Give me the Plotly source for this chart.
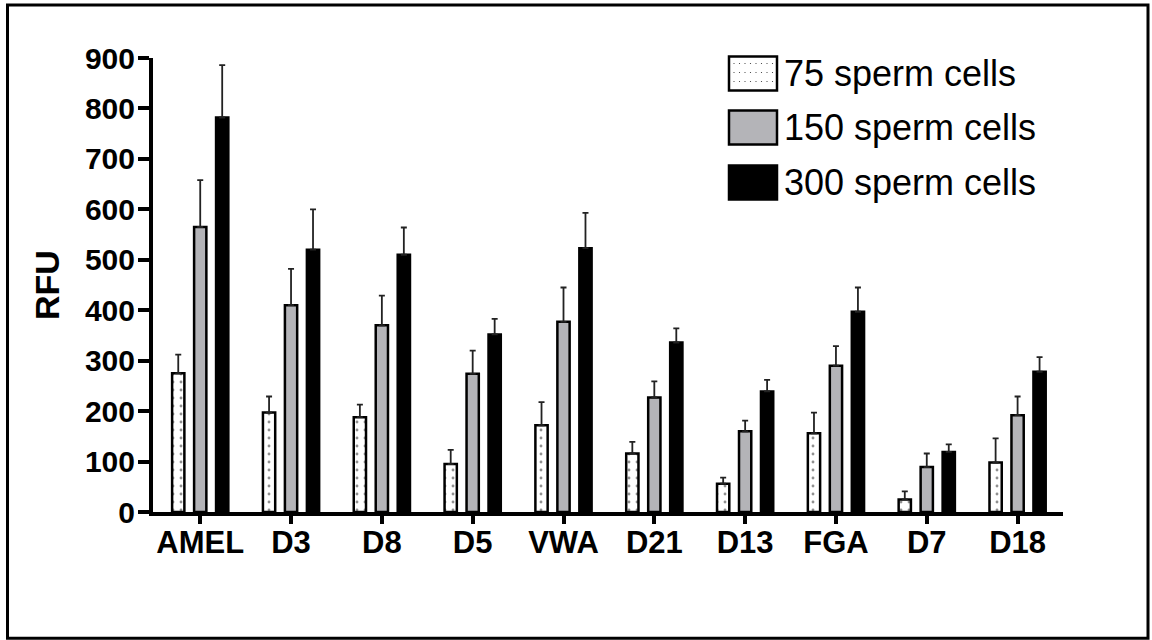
import plotly.graph_objects as go

# ---- data ----
categories = ["AMEL", "D3", "D8", "D5", "VWA", "D21", "D13", "FGA", "D7", "D18"]
series_names = ["75 sperm cells", "150 sperm cells", "300 sperm cells"]

rfu_75 = [275, 197, 188, 95, 172, 116, 56, 156, 25, 98]
err_75 = [37, 32, 25, 28, 46, 23, 12, 41, 16, 48]

rfu_150 = [565, 410, 370, 274, 377, 227, 160, 290, 89, 192]
err_150 = [93, 72, 59, 46, 68, 32, 21, 39, 27, 37]

rfu_300 = [782, 520, 510, 352, 523, 336, 239, 397, 119, 278]
err_300 = [104, 80, 54, 31, 70, 28, 23, 48, 15, 29]

y_ticks = [0, 100, 200, 300, 400, 500, 600, 700, 800, 900]

GRAY = "#b4b4b8"
FONT = "Liberation Sans, Arial, sans-serif"

x_idx = list(range(len(categories)))
bar_w = 0.135
offsets = [-0.242 - bar_w / 2, -bar_w / 2, 0.242 - bar_w / 2]

fig = go.Figure()

styles = [
    dict(color="white", pattern=dict(shape=".", fgcolor="#222222", bgcolor="white",
                                     size=8, solidity=0.1)),
    dict(color=GRAY),
    dict(color="black"),
]
vals = [rfu_75, rfu_150, rfu_300]
errs = [err_75, err_150, err_300]

for name, v, e, st, off in zip(series_names, vals, errs, styles, offsets):
    fig.add_trace(go.Bar(
        x=x_idx, y=v, name=name, width=bar_w, offset=off,
        marker=dict(line=dict(color="black", width=2.5), **st),
        error_y=dict(type="data", symmetric=False, array=e,
                     arrayminus=[0] * len(e), color="#222222",
                     thickness=1.8, width=3),
        showlegend=False,
    ))

# plot area geometry (pixels)
L, R, T, B = 153, 89, 57.5, 128.3
W = 1152 - L - R
H = 640 - T - B


def px_x(p):
    return (p - L) / W


def px_y(p):
    return (640 - B - p) / H


shapes = []
# outer border
shapes.append(dict(type="rect", xref="paper", yref="paper",
                   x0=px_x(7.5), x1=px_x(1148), y0=px_y(638), y1=px_y(4.5),
                   line=dict(color="black", width=3), fillcolor="rgba(0,0,0,0)"))

# legend (custom, large swatches)
legend_fill = ["white", GRAY, "black"]
legend_rows = [(56, 90), (110, 144), (165, 199)]
annotations = []
for name, fc, (y0, y1) in zip(series_names, legend_fill, legend_rows):
    shapes.append(dict(type="rect", xref="paper", yref="paper",
                       x0=px_x(729), x1=px_x(777), y0=px_y(y1), y1=px_y(y0),
                       line=dict(color="black", width=2.5), fillcolor=fc))
    annotations.append(dict(xref="paper", yref="paper", x=px_x(782),
                            y=px_y((y0 + y1) / 2), xanchor="left", yanchor="middle",
                            text=name, showarrow=False,
                            font=dict(family=FONT, size=36, color="black")))

# dots in the 75-cell legend swatch
for r in range(3):
    for c in range(8):
        cx = 734 + c * 5.5
        cy = 63 + r * 9
        shapes.append(dict(type="circle", xref="paper", yref="paper",
                           x0=px_x(cx - 0.6), x1=px_x(cx + 0.6),
                           y0=px_y(cy + 0.6), y1=px_y(cy - 0.6),
                           line=dict(width=0), fillcolor="#333333"))

fig.update_layout(
    width=1152, height=640,
    margin=dict(l=L, r=R, t=T, b=B),
    paper_bgcolor="white", plot_bgcolor="white",
    barmode="overlay",
    shapes=shapes, annotations=annotations,
    font=dict(family=FONT, color="black"),
)

fig.update_xaxes(
    range=[-0.52, 9.5], tickmode="array", tickvals=x_idx, ticktext=categories,
    showline=True, linecolor="black", linewidth=4,
    ticks="outside", ticklen=8, tickwidth=4, tickcolor="black",
    ticklabelstandoff=-8,
    showgrid=False, zeroline=False,
    tickfont=dict(family=FONT, size=31, color="black", weight="bold"),
    fixedrange=True,
)
fig.update_yaxes(
    range=[0, 900], tickmode="array", tickvals=y_ticks,
    showline=True, linecolor="black", linewidth=4,
    ticks="outside", ticklen=11, tickwidth=4, tickcolor="black",
    ticklabelstandoff=-3,
    showgrid=False, zeroline=False,
    tickfont=dict(family=FONT, size=30, color="black", weight="bold"),
    title=dict(text="RFU", font=dict(family=FONT, size=34, color="black", weight="bold"),
               standoff=16),
    fixedrange=True,
)

fig.write_html(
    "out.html",
    config={"displayModeBar": False},
    post_script="document.body.style.margin='0';document.body.style.overflow='hidden';",
)
